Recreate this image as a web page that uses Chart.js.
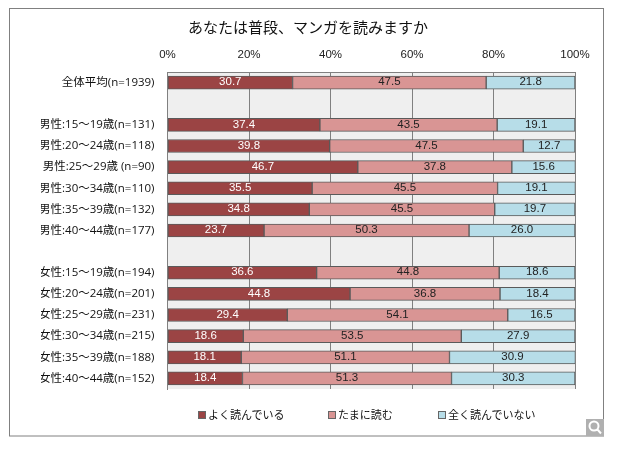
<!DOCTYPE html>
<html lang="ja">
<head>
<meta charset="UTF-8">
<title>あなたは普段、マンガを読みますか</title>
<script src="https://cdn.jsdelivr.net/npm/chart.js@4"></script>
<style>
  body { margin: 0; background: #fff; }
  #wrap { position: relative; width: 620px; height: 449px; }
  #legend span { position: absolute; top: 406px; font: 11px "Noto Sans CJK JP"; line-height: 16px; color: #111; white-space: nowrap; }
  #legend i { display: inline-block; width: 6px; height: 6px; border: 1px solid #666; margin-right: 2px; }
</style>
</head>
<body>
<div id="wrap">
  <canvas id="chart" width="620" height="449"></canvas>
  <div id="legend"></div>
</div>
<script>
const categories = [
  '全体平均(n=1939)', '',
  '男性:15～19歳(n=131)', '男性:20～24歳(n=118)', '男性:25～29歳 (n=90)',
  '男性:30～34歳(n=110)', '男性:35～39歳(n=132)', '男性:40～44歳(n=177)', '',
  '女性:15～19歳(n=194)', '女性:20～24歳(n=201)', '女性:25～29歳(n=231)',
  '女性:30～34歳(n=215)', '女性:35～39歳(n=188)', '女性:40～44歳(n=152)'
];
const often = [30.7, null, 37.4, 39.8, 46.7, 35.5, 34.8, 23.7, null, 36.6, 44.8, 29.4, 18.6, 18.1, 18.4];
const sometimes = [47.5, null, 43.5, 47.5, 37.8, 45.5, 45.5, 50.3, null, 44.8, 36.8, 54.1, 53.5, 51.1, 51.3];
const never = [21.8, null, 19.1, 12.7, 15.6, 19.1, 19.7, 26.0, null, 18.6, 18.4, 16.5, 27.9, 30.9, 30.3];
const seriesNames = ['よく読んでいる', 'たまに読む', '全く読んでいない'];
const seriesColors = ['#9b4444', '#d99594', '#b7dde8'];
const labelColors = ['#fff', '#222', '#222'];
const legendLeft = [198, 328, 438];
const jpFont = '"Noto Sans CJK JP"';
const numFont = '"Liberation Sans"';

// frame, plot background and the zoom icon in the corner
const decor = {
  id: 'decor',
  beforeDraw(chart) {
    const c = chart.ctx, a = chart.chartArea;
    c.save();
    c.strokeStyle = '#808080';
    c.strokeRect(9.5, 8.5, 594, 427.5);
    c.fillStyle = '#efefef';
    c.fillRect(a.left, a.top, a.width, a.height);
    c.restore();
  },
  afterDraw(chart) {
    const c = chart.ctx;
    c.save();
    c.fillStyle = '#b0b0b0';
    c.fillRect(586, 419, 18, 17);
    c.strokeStyle = '#fff';
    c.lineWidth = 2;
    c.beginPath();
    c.arc(594, 426, 4.5, 0, Math.PI * 2);
    c.moveTo(597.5, 429.5);
    c.lineTo(601, 433.5);
    c.stroke();
    c.restore();
  }
};

// value labels in the middle of each bar
const barLabels = {
  id: 'barLabels',
  afterDatasetsDraw(chart) {
    const c = chart.ctx;
    c.save();
    c.font = '11.5px ' + numFont;
    c.textAlign = 'center';
    c.textBaseline = 'middle';
    chart.data.datasets.forEach((ds, i) => {
      c.fillStyle = labelColors[i];
      chart.getDatasetMeta(i).data.forEach((bar, j) => {
        if (ds.data[j] == null) return;
        const p = bar.getCenterPoint();
        c.fillText(ds.data[j].toFixed(1), p.x, p.y - 0.5);
      });
    });
    c.restore();
  }
};

new Chart(document.getElementById('chart'), {
  type: 'bar',
  data: {
    labels: categories,
    datasets: [often, sometimes, never].map((values, i) => ({
      label: seriesNames[i],
      data: values,
      backgroundColor: seriesColors[i],
      borderColor: '#5a5a5a',
      borderWidth: 1,
      borderSkipped: false,
      barThickness: 13
    }))
  },
  options: {
    indexAxis: 'y',
    responsive: false,
    animation: false,
    // left padding moves the title's centre over to where the reference has it
    layout: { padding: { top: 0, left: 41, right: 45, bottom: 60 } },
    plugins: {
      legend: { display: false },
      tooltip: { enabled: false },
      title: {
        display: true,
        text: 'あなたは普段、マンガを読みますか',
        color: '#111',
        font: { family: jpFont, size: 15, weight: 'normal' },
        padding: { top: 18, bottom: 4 }
      }
    },
    scales: {
      x: {
        position: 'top',
        stacked: true,
        min: 0,
        max: 100,
        afterFit(s) { s.height = 32; },
        grid: { color: '#808080', drawTicks: false },
        border: { color: '#808080' },
        ticks: {
          stepSize: 20,
          padding: 10,
          color: '#222',
          maxRotation: 0,
          font: { family: numFont, size: 11.5 },
          callback: v => v + '%'
        }
      },
      y: {
        stacked: true,
        afterFit(s) { s.width = 126.5; },
        grid: { display: false, drawTicks: false },
        border: { color: '#808080' },
        ticks: {
          autoSkip: false,
          padding: 13,
          color: '#111',
          font: { family: '"Open Sans", ' + jpFont, size: 11.5 }
        }
      }
    }
  },
  plugins: [decor, barLabels]
});

// legend sits below the plot at fixed spots
seriesNames.forEach((name, i) => {
  const el = document.createElement('span');
  el.style.left = legendLeft[i] + 'px';
  el.innerHTML = '<i style="background:' + seriesColors[i] + '"></i>' + name;
  document.getElementById('legend').appendChild(el);
});
</script>
</body>
</html>
